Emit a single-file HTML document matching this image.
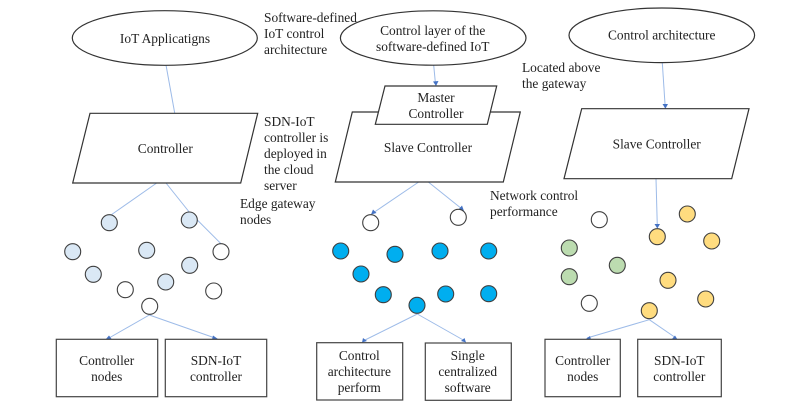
<!DOCTYPE html>
<html>
<head>
<meta charset="utf-8">
<style>
html,body{margin:0;padding:0;background:#fff;width:797px;height:408px;overflow:hidden}
svg{display:block;filter:blur(0.3px)}
text{font-family:"Liberation Serif",serif;font-size:13.4px;fill:#222}
.m{text-anchor:middle}
.s{fill:#fff;stroke:#333;stroke-width:1.2}
.b{fill:#fff;stroke:#444;stroke-width:1.2}
.l{stroke:#9dbbe8;stroke-width:1;fill:none}
.h{fill:#4472c4;stroke:none}
.c{stroke:#3f3f3f;stroke-width:1.1}
.w{fill:#fff}.lb{fill:#dae8f5}.bl{fill:#00aeef}.y{fill:#ffdc7f}.g{fill:#bcdcb0}
</style>
</head>
<body>
<svg width="797" height="408" viewBox="0 0 797 408" xmlns="http://www.w3.org/2000/svg">
<!-- connectors -->
<g class="l">
<line x1="166" y1="65" x2="174.7" y2="113"/>
<line x1="156.7" y1="183" x2="111.7" y2="214.5"/>
<line x1="166" y1="183" x2="190" y2="213"/>
<line x1="197.3" y1="220" x2="221" y2="243.7"/>
<line x1="149.3" y1="315" x2="109" y2="338"/>
<line x1="149.3" y1="315" x2="215" y2="338"/>
<line x1="433.7" y1="65.3" x2="435.5" y2="84"/>
<line x1="418.7" y1="182" x2="373" y2="213"/>
<line x1="428.3" y1="182" x2="462" y2="209"/>
<line x1="417.3" y1="314" x2="363" y2="341"/>
<line x1="417.3" y1="314" x2="465" y2="341"/>
<line x1="662.3" y1="62.7" x2="665.2" y2="107"/>
<line x1="656" y1="178.7" x2="657.3" y2="226"/>
<line x1="649.3" y1="319.7" x2="587" y2="338"/>
<line x1="649.3" y1="319.7" x2="676" y2="338"/>
</g>
<!-- arrowheads -->
<polygon class="h" points="109,335.5 105.5,339.5 112,339.5"/>
<polygon class="h" points="213,335.5 212,339.5 218,339"/>
<polygon class="h" points="436,86 433,81.5 438.5,81"/>
<polygon class="h" points="371,214.5 373,209.5 376.5,213"/>
<polygon class="h" points="464,211 458.5,209.5 462,205.5"/>
<polygon class="h" points="362,342.5 363,338 367,341"/>
<polygon class="h" points="466,342.5 461,341 464.5,338"/>
<polygon class="h" points="665.4,108.7 662.5,104 668,104"/>
<polygon class="h" points="657.3,228.5 654.5,224 660,224"/>
<polygon class="h" points="585,339.5 590,336 591,339.5"/>
<polygon class="h" points="677.5,339.5 672,339 675,335.5"/>

<!-- ellipses -->
<ellipse class="s" cx="164.8" cy="38" rx="92.5" ry="27.3"/>
<ellipse class="s" cx="433.2" cy="38" rx="92.8" ry="27.2"/>
<ellipse class="s" cx="661.8" cy="35.3" rx="92.8" ry="27.3"/>

<!-- parallelograms -->
<polygon class="s" points="90,113.3 257.7,113.3 240.7,183 72.7,183"/>
<polygon class="s" points="352.3,112 520.3,112 503.3,182 335.3,182"/>
<polygon class="s" points="385,86 496.7,86 487.3,124.3 375.3,124.3"/>
<polygon class="s" points="581.7,108.7 749,108.7 731.7,178.7 564,178.7"/>

<!-- boxes -->
<rect class="b" x="56.3" y="339.3" width="101.4" height="57.4"/>
<rect class="b" x="165.3" y="339.3" width="101.4" height="57.4"/>
<rect class="b" x="316.7" y="342.7" width="86" height="57.3"/>
<rect class="b" x="425.3" y="343" width="86" height="57.3"/>
<rect class="b" x="545" y="339.3" width="75.3" height="57.4"/>
<rect class="b" x="637.7" y="339.3" width="83.6" height="57.4"/>

<!-- nodes column 1 -->
<g class="c" >
<circle class="lb" cx="109.3" cy="222.7" r="8"/>
<circle class="lb" cx="189.3" cy="220" r="8"/>
<circle class="lb" cx="72.7" cy="251.7" r="8"/>
<circle class="lb" cx="146.7" cy="250.3" r="8"/>
<circle class="w" cx="221" cy="251.7" r="8"/>
<circle class="lb" cx="189.7" cy="265.3" r="8"/>
<circle class="lb" cx="93.3" cy="274.3" r="8"/>
<circle class="lb" cx="165.7" cy="282" r="8"/>
<circle class="w" cx="125.3" cy="289.7" r="8"/>
<circle class="w" cx="213.7" cy="291" r="8"/>
<circle class="w" cx="149.7" cy="306.3" r="8"/>
<!-- column 2 -->
<circle class="w" cx="370.7" cy="222.7" r="8"/>
<circle class="w" cx="458.3" cy="217.3" r="8"/>
<circle class="bl" cx="340.7" cy="251" r="8"/>
<circle class="bl" cx="395" cy="254.3" r="8"/>
<circle class="bl" cx="440" cy="251" r="8"/>
<circle class="bl" cx="488.7" cy="251" r="8"/>
<circle class="bl" cx="361" cy="274" r="8"/>
<circle class="bl" cx="383.3" cy="294.7" r="8"/>
<circle class="bl" cx="445.7" cy="294" r="8"/>
<circle class="bl" cx="488.7" cy="293.7" r="8"/>
<circle class="bl" cx="417" cy="305.3" r="8"/>
<!-- column 3 -->
<circle class="w" cx="599.3" cy="219.7" r="8"/>
<circle class="y" cx="687.3" cy="214" r="8"/>
<circle class="y" cx="711.7" cy="241" r="8"/>
<circle class="y" cx="657.3" cy="236.7" r="8"/>
<circle class="g" cx="569.3" cy="248" r="8"/>
<circle class="g" cx="617.3" cy="265.3" r="8"/>
<circle class="g" cx="569.3" cy="276.7" r="8"/>
<circle class="y" cx="668" cy="280.3" r="8"/>
<circle class="y" cx="705.7" cy="299" r="8"/>
<circle class="w" cx="589.3" cy="303.3" r="8"/>
<circle class="y" cx="649.3" cy="310.7" r="8"/>
</g>

<!-- centred labels -->
<text class="m" x="165" y="43">IoT Applicatigns</text>
<text class="m" x="165.3" y="153">Controller</text>
<text class="m" x="106.7" y="365">Controller</text>
<text class="m" x="106.7" y="381">nodes</text>
<text class="m" x="216" y="365">SDN-IoT</text>
<text class="m" x="216" y="381">controller</text>

<text class="m" x="432.7" y="35">Control layer of the</text>
<text class="m" x="432.7" y="51">software-defined IoT</text>
<text class="m" x="436" y="102">Master</text>
<text class="m" x="436" y="118">Controller</text>
<text class="m" x="428" y="152">Slave Controller</text>
<text class="m" x="359.3" y="360">Control</text>
<text class="m" x="359.3" y="376">architecture</text>
<text class="m" x="359.3" y="392">perform</text>
<text class="m" x="467.7" y="360">Single</text>
<text class="m" x="467.7" y="376">centralized</text>
<text class="m" x="467.7" y="392">software</text>

<text class="m" x="661.7" y="39.5">Control architecture</text>
<text class="m" x="656.7" y="148.5">Slave Controller</text>
<text class="m" x="582.7" y="365">Controller</text>
<text class="m" x="582.7" y="381">nodes</text>
<text class="m" x="679.3" y="365">SDN-IoT</text>
<text class="m" x="679.3" y="381">controller</text>

<!-- side labels -->
<text x="264" y="22">Software-defined</text>
<text x="264" y="38">IoT control</text>
<text x="264" y="54">architecture</text>

<text x="264" y="126">SDN-IoT</text>
<text x="264" y="142">controller is</text>
<text x="264" y="158">deployed in</text>
<text x="264" y="174">the cloud</text>
<text x="264" y="190">server</text>

<text x="240" y="208">Edge gateway</text>
<text x="240" y="224">nodes</text>

<text x="522" y="72">Located above</text>
<text x="522" y="88">the gateway</text>

<text x="490" y="200">Network control</text>
<text x="490" y="216">performance</text>
</svg>
</body>
</html>
